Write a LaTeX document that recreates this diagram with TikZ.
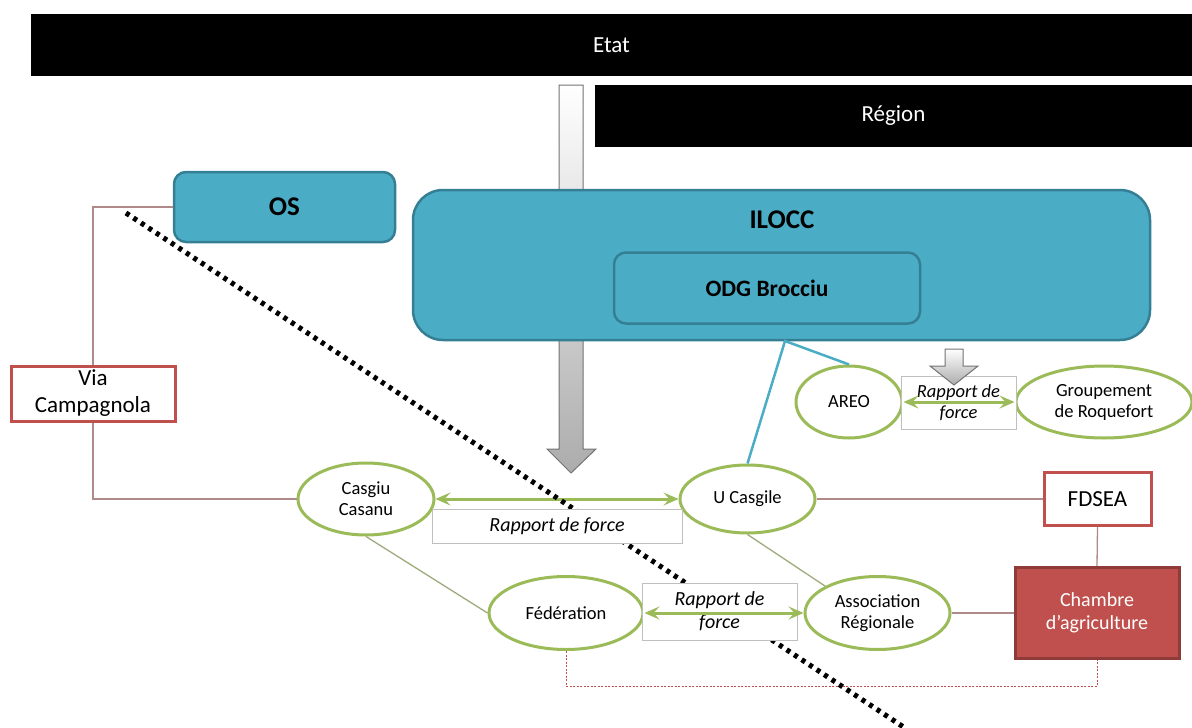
\documentclass[tikz,border=0pt]{standalone}
\usepackage{fontspec}
\setmainfont{Carlito}
\usepackage{xcolor}
\usepackage{tikz}
\usetikzlibrary{arrows.meta,shapes.geometric,positioning,calc}
\definecolor{ilocteal}{HTML}{4BACC6}
\definecolor{tealedge}{HTML}{357F94}
\definecolor{leafgreen}{HTML}{9BBB59}
\definecolor{brickred}{HTML}{C0504D}
\definecolor{brickdark}{HTML}{8E3B39}
\definecolor{linkbrown}{HTML}{B08A88}
\definecolor{linkolive}{HTML}{9DAA7C}
\definecolor{boxgrey}{HTML}{BFBFBF}

\begin{document}
\begin{tikzpicture}[x=1pt,y=-1pt,
  bar/.style={fill=black,text=white,inner sep=0pt,minimum height=62pt,font=\fontsize{23}{27}\selectfont},
  tealbox/.style={draw=tealedge,line width=2.5pt,fill=ilocteal,inner sep=0pt,font=\bfseries\fontsize{27}{30}\selectfont},
  actor/.style={ellipse,draw=leafgreen,line width=3pt,fill=white,inner sep=0pt,align=center,font=\fontsize{18.5}{21}\selectfont},
  redbox/.style={draw=brickred,line width=3pt,fill=white,inner sep=0pt,align=center,font=\fontsize{23}{27}\selectfont},
  forcebox/.style={draw=boxgrey,fill=white,inner sep=0pt,align=center,font=\itshape\fontsize{20}{23}\selectfont},
  forcearrow/.style={{Stealth[length=15pt,width=13pt,inset=6pt]}-{Stealth[length=15pt,width=13pt,inset=6pt]},leafgreen,line width=3pt},
  link/.style={linkbrown,line width=1.3pt},
  greylink/.style={linkolive,line width=1.3pt},
  downarrow/.style={draw=gray!90!black,line width=1pt,top color=white,bottom color=gray!65}]
  \useasboundingbox (0,0) rectangle (1192,728);

  \node[bar,minimum width=1161pt] (etat) at (611.5,45) {Etat};
  \node[bar,minimum width=597pt] (region) at (893.5,116) {Région};

  \path[downarrow] (559,85) -- (583,85) -- (583,449) -- (596,449) -- (571,473) -- (547,449) -- (559,449) -- cycle;

  \node[tealbox,rounded corners=12pt,minimum width=221pt,minimum height=70pt] (os) at (284.5,207) {OS};
  \node[tealbox,rounded corners=30pt,minimum width=737pt,minimum height=150pt] (ilocc) at (781.5,265) {};
  \node[font=\bfseries\fontsize{27}{30}\selectfont] (iloccname) at (782,220) {ILOCC};
  \node[tealbox,rounded corners=12pt,minimum width=306pt,minimum height=71pt,font=\bfseries\fontsize{23.5}{27}\selectfont] (odg) at (767,288) {ODG Brocciu};

  \node[redbox,minimum width=164pt,minimum height=55pt] (via) at (93,393.5) {Via\\Campagnola};
  \node[redbox,minimum width=107pt,minimum height=53pt] (fdsea) at (1097.5,499) {FDSEA};
  \node[redbox,draw=brickdark,fill=brickred,text=white,minimum width=164pt,minimum height=91pt,font=\fontsize{20}{23}\selectfont] (chambre) at (1097,613) {Chambre\\d’agriculture};

  \node[actor,minimum width=136pt,minimum height=72pt] (casgiu) at (366,499) {Casgiu\\Casanu};
  \node[actor,minimum width=135pt,minimum height=68pt] (ucasgile) at (747.5,499) {U Casgile};
  \node[actor,minimum width=106pt,minimum height=72pt] (areo) at (849,402) {AREO};
  \node[actor,minimum width=176pt,minimum height=72pt] (groupement) at (1104,402) {Groupement\\de Roquefort};
  \node[actor,minimum width=154pt,minimum height=73pt] (federation) at (566,613) {Fédération};
  \node[actor,minimum width=145pt,minimum height=73pt] (association) at (877.5,613) {Association\\Régionale};

  \coordinate (tie) at (785,341);
  \coordinate (dashbase) at (0,686);
  \coordinate (cutA) at (126,213);
  \coordinate (cutB) at (905,728);

  \draw[link] (os.west) -| (via.north);
  \draw[link] (via.south) |- (casgiu.west);
  \draw[link] (ucasgile.east) -- (fdsea.west);
  \draw[link] (fdsea.south) -- (chambre.north);
  \draw[link] (association.east) -- (chambre.west);
  \draw[brickred,line width=0.8pt,dash pattern=on 2pt off 1.5pt] (federation.south) -- (federation.south |- dashbase) -- (chambre.south |- dashbase) -- (chambre.south);
  \draw[greylink] (casgiu.south) -- (federation.west);
  \draw[greylink] (ucasgile.south) -- (association.north west);
  \draw[ilocteal,line width=2.5pt] (ucasgile.north) -- (tie) -- (areo.north);

  \draw[forcearrow] (casgiu.east) -- (ucasgile.west);

  \draw[black!30,line width=5pt,dash pattern=on 4pt off 5pt,shift={(1.5,2)}] (cutA) -- (cutB);
  \draw[black,line width=5pt,dash pattern=on 4pt off 5pt] (cutA) -- (cutB);

  \node[forcebox,minimum width=250pt,minimum height=34pt] (force1) at (557,526) {Rapport de force};
  \node[forcebox,minimum width=115pt,minimum height=53pt,font=\itshape\fontsize{18.5}{21}\selectfont] (force2) at (958.5,402.5) {Rapport de\\force};
  \node[forcebox,minimum width=155pt,minimum height=57pt] (force3) at (719.5,611.5) {Rapport de\\force};

  \draw[forcearrow] (areo.east) -- (groupement.west);
  \draw[forcearrow] (federation.east) -- (association.west);

  \path[downarrow] (945,349) -- (963,349) -- (963,366) -- (978,366) -- (954,385) -- (930,366) -- (945,366) -- cycle;
\end{tikzpicture}
\end{document}
